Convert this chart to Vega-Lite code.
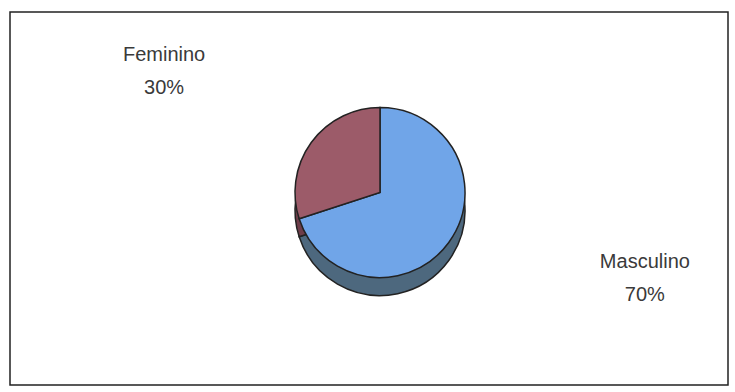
{
  "$schema": "https://vega.github.io/schema/vega-lite/v6.json",
  "autosize": {"type": "none"},
  "width": 718,
  "height": 373,
  "padding": {"left": 10, "top": 12, "right": 7, "bottom": 7},
  "background": "white",
  "data": {"values": [
    {"categoria": "Masculino", "pct": 70, "label": "Masculino\n70%"},
    {"categoria": "Feminino", "pct": 30, "label": "Feminino\n30%"}
  ]},
  "layer": [
    {
      "data": {"values": [{"frame": 1}]},
      "mark": {"type": "rect", "fill": null, "stroke": "#222", "strokeWidth": 1.5},
      "encoding": {}
    },
    {
      "mark": {"type": "arc", "outerRadius": 85, "xOffset": 11, "yOffset": 12, "stroke": "#222", "strokeWidth": 1.5},
      "encoding": {
        "theta": {"field": "pct", "type": "quantitative", "stack": true},
        "order": {"field": "categoria", "sort": "descending"},
        "color": {"field": "categoria", "type": "nominal", "legend": null,
          "scale": {"domain": ["Masculino", "Feminino"], "range": ["#4d687e", "#6e3d49"]}}
      }
    },
    {
      "mark": {"type": "arc", "outerRadius": 85, "xOffset": 11, "yOffset": -6, "stroke": "#222", "strokeWidth": 1.5},
      "encoding": {
        "theta": {"field": "pct", "type": "quantitative", "stack": true},
        "order": {"field": "categoria", "sort": "descending"},
        "fill": {"field": "categoria", "type": "nominal", "legend": null,
          "scale": {"domain": ["Masculino", "Feminino"], "range": ["#70a5e8", "#9c5b69"]}}
      }
    },
    {
      "transform": [{"filter": "datum.categoria === 'Feminino'"}],
      "mark": {"type": "text", "font": "Liberation Sans", "fontSize": 20, "color": "#3a3a3a", "lineBreak": "\n", "lineHeight": 33, "align": "center", "baseline": "middle", "theta": -1.01, "radius": 242, "dy": -15},
      "encoding": {
        "text": {"field": "label", "type": "nominal"}
      }
    },
    {
      "transform": [{"filter": "datum.categoria === 'Masculino'"}],
      "mark": {"type": "text", "font": "Liberation Sans", "fontSize": 20, "color": "#3a3a3a", "lineBreak": "\n", "lineHeight": 33, "align": "center", "baseline": "middle", "theta": 1.85, "radius": 287, "dy": -16},
      "encoding": {
        "text": {"field": "label", "type": "nominal"}
      }
    }
  ]
}
